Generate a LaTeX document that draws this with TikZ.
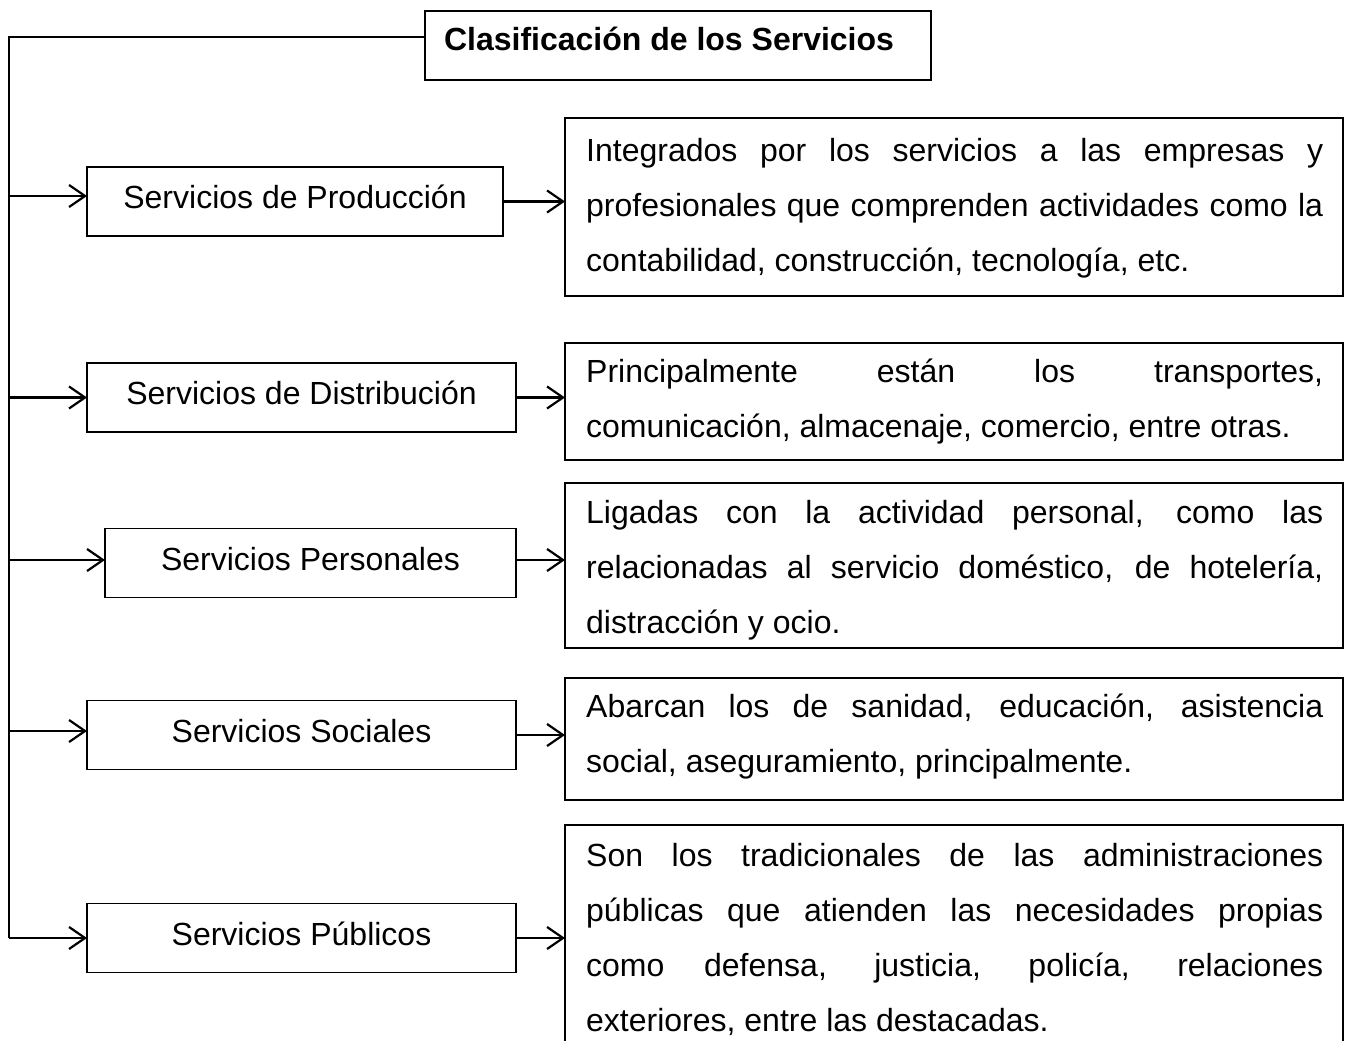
\documentclass[tikz,border=0pt]{standalone}
\usepackage{fontspec}
\setmainfont{Liberation Sans}
\usetikzlibrary{arrows.meta,calc}
\begin{document}
\begin{tikzpicture}[x=1pt,y=-1pt,
  box/.style={draw, line width=1.5pt, inner sep=0pt, outer sep=0pt},
  cat/.style={box, minimum height=69pt, font=\fontsize{32}{38}\selectfont, text height=23pt, text depth=9pt},
  desc/.style={box, minimum width=778pt},
  txt/.style={inner sep=0pt, anchor=base west, text width=737pt, align=justify, font=\fontsize{32}{55}\selectfont},
  arr/.style={line width=2.2pt, -{Straight Barb[length=16pt,width=22pt,line width=2.2pt]}},
  link/.style={line width=2pt}
]
\useasboundingbox (0,0) rectangle (1349,1041);

% title
\node[box, minimum width=506pt, minimum height=69pt, font=\bfseries\fontsize{32}{38}\selectfont, text height=23pt, text depth=13pt] (title) at (678,45.5) {Clasificación de los Servicios\hspace*{18pt}};

% categories
\node[cat, minimum width=416pt] (p1) at (295,201.5) {Servicios de Producción};
\node[cat, minimum width=429pt] (p2) at (301.5,397.5) {Servicios de Distribución};
\node[cat, minimum width=411pt] (p3) at (310.5,563) {Servicios Personales};
\node[cat, minimum width=429pt] (p4) at (301.5,735) {Servicios Sociales};
\node[cat, minimum width=429pt] (p5) at (301.5,938) {Servicios Públicos};

% description boxes
\node[desc, minimum height=178pt] (d1) at (954,207) {};
\node[desc, minimum height=117pt] (d2) at (954,401.5) {};
\node[desc, minimum height=165pt] (d3) at (954,565.5) {};
\node[desc, minimum height=122pt] (d4) at (954,739) {};
\node[desc, minimum height=235pt] (d5) at (954,942.5) {};

\node[txt] (t1) at (586,161) {Integrados por los servicios a las empresas y\linebreak profesionales que comprenden actividades como la\linebreak contabilidad, construcción, tecnología, etc.};
\node[txt] (t2) at (586,382) {Principalmente están los transportes,\linebreak comunicación, almacenaje, comercio, entre otras.};
\node[txt] (t3) at (586,523) {Ligadas con la actividad personal, como las\linebreak relacionadas al servicio doméstico, de hotelería,\linebreak distracción y ocio.};
\node[txt] (t4) at (586,717) {Abarcan los de sanidad, educación, asistencia\linebreak social, aseguramiento, principalmente.};
\node[txt] (t5) at (586,866) {Son los tradicionales de las administraciones\linebreak públicas que atienden las necesidades propias\linebreak como defensa, justicia, policía, relaciones\linebreak exteriores, entre las destacadas.};

% spine
\coordinate (s0) at (9,37);
\coordinate (s1) at (9,938);
\draw[link] (title.west |- s0) -- (s0) -- (s1);

% left arrows
\draw[arr] ([yshift=5.5pt]p1.west -| s0) -- ([yshift=5.5pt]p1.west);
\draw[arr] (p2.west -| s0) -- (p2.west);
\draw[arr] ([yshift=3pt]p3.west -| s0) -- ([yshift=3pt]p3.west);
\draw[arr] ([yshift=4pt]p4.west -| s0) -- ([yshift=4pt]p4.west);
\draw[arr] (p5.west -| s0) -- (p5.west);

% right arrows
\draw[arr] (p1.east) -- (p1.east -| d1.west);
\draw[arr] (p2.east) -- (p2.east -| d2.west);
\draw[arr] ([yshift=3pt]p3.east) -- ([yshift=3pt]p3.east -| d3.west);
\draw[arr] (p4.east) -- (p4.east -| d4.west);
\draw[arr] (p5.east) -- (p5.east -| d5.west);
\end{tikzpicture}
\end{document}
